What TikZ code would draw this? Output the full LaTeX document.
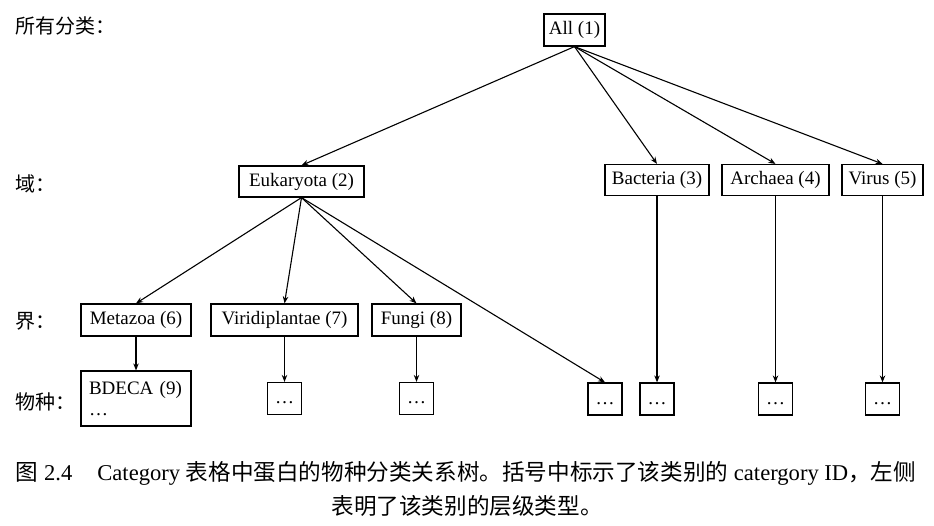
\documentclass[tikz,border=0pt]{standalone}
\usepackage{fontspec}
\setmainfont{Liberation Serif}
\newfontfamily\cjk{Noto Sans CJK SC}
\usepackage{tikz}
\usetikzlibrary{
    arrows.meta,
    positioning,
    calc
}

\begin{document}
\begin{tikzpicture}[x=1pt, y=-1pt,
    taxbox/.style={draw, line width=1.2pt, font=\fontsize{19}{22}\selectfont,
        minimum height=31pt, inner xsep=0pt, inner ysep=0pt},
    dotbox/.style={draw, line width=1.2pt, font=\fontsize{19}{22}\selectfont,
        minimum width=34pt, minimum height=32pt, inner sep=0pt,
        text height=14pt, text depth=4pt},
    levellabel/.style={anchor=west, inner sep=0pt, font=\cjk\fontsize{20}{24}\selectfont},
    link/.style={-{Stealth[length=7pt, width=5.5pt]}, line width=1.1pt}]
                    \useasboundingbox (0,0) rectangle (934,525);

                    % Levels
                    \node[levellabel] (lvlall) at (15,26) {所有分类：};
                    \node[levellabel] (lvldom) at (15,184) {域：};
                    \node[levellabel] (lvlking) at (15,321) {界：};
                    \node[levellabel] (lvlspec) at (15,402) {物种：};

                    % Root
                    \node[taxbox, minimum width=61pt, minimum height=32pt] (all) at (574.5,30) {All (1)};

                    % Domains
                    \node[taxbox, minimum width=125pt] (euk) at (301.5,181.5) {Eukaryota (2)};
                    \node[taxbox, minimum width=104pt] (bac) at (657,180) {Bacteria (3)};
                    \node[taxbox, minimum width=107pt] (arc) at (775.5,180) {Archaea (4)};
                    \node[taxbox, minimum width=81pt] (vir) at (882.5,180) {Virus (5)};

                    % Kingdoms
                    \node[taxbox, minimum width=110pt, minimum height=32pt] (met) at (136,320) {Metazoa (6)};
                    \node[taxbox, minimum width=147pt, minimum height=32pt] (vpl) at (284.5,320) {Viridiplantae (7)};
                    \node[taxbox, minimum width=89pt, minimum height=32pt] (fun) at (416.5,320) {Fungi (8)};

                    % Species
                    \node[draw, line width=1.2pt, font=\fontsize{19}{21}\selectfont, align=left,
                        text width=94pt, inner xsep=8pt, minimum height=55pt] (bdeca) at (136,398.5) {BDECA (9)\\\ldots};
                    \node[dotbox] (vplsub) at (284.5,398.5) {\ldots};
                    \node[dotbox] (funsub) at (416.5,398.5) {\ldots};
                    \node[dotbox] (euksub) at (605,399) {\ldots};
                    \node[dotbox] (bacsub) at (657,399) {\ldots};
                    \node[dotbox] (arcsub) at (775.5,399) {\ldots};
                    \node[dotbox] (virsub) at (882.5,399) {\ldots};

                    % Links
                    \foreach \kid in {euk, bac, arc, vir}
                        \draw[link] (all.south) -- (\kid.north);
                    \foreach \kid in {met, vpl, fun, euksub}
                        \draw[link] (euk.south) -- (\kid.north);
                    \draw[link] (met) -- (bdeca);
                    \draw[link] (vpl) -- (vplsub);
                    \draw[link] (fun) -- (funsub);
                    \draw[link] (bac) -- (bacsub);
                    \draw[link] (arc) -- (arcsub);
                    \draw[link] (vir) -- (virsub);

                    % Caption
                    \node[font=\fontsize{22.6}{26}\selectfont, inner sep=0pt] (capa) at (466,473)
                        {{\cjk 图} 2.4\hspace{25pt}Category {\cjk 表格中蛋白的物种分类关系树。括号中标示了该类别的} catergory ID{\cjk ，左侧}};
                    \node[font=\cjk\fontsize{22.6}{26}\selectfont, inner sep=0pt] (capb) at (467,506) {表明了该类别的层级类型。};
                \end{tikzpicture}
\end{document}
